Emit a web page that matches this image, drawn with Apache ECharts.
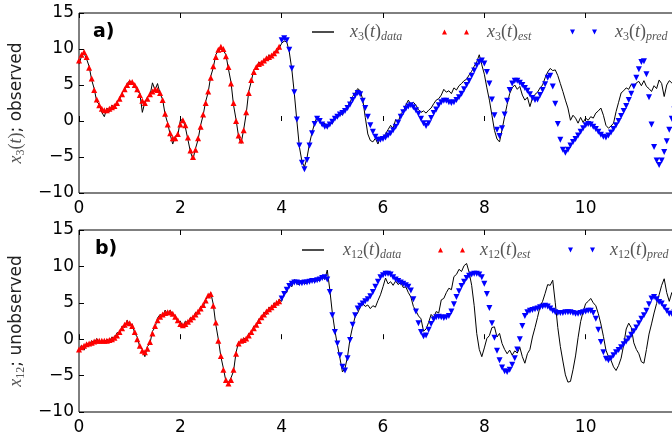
<!DOCTYPE html>
<html>
<head>
<meta charset="utf-8">
<script src="https://cdn.jsdelivr.net/npm/echarts@6/dist/echarts.min.js"></script>
<style>
html, body { margin: 0; padding: 0; background: #fff; }
#chart { width: 672px; height: 446px; }
</style>
</head>
<body>
<div id="chart"></div>
<script>
// sampling step of the time axis
var dt = 0.05;
var xRange = [0, 12];
var yRange = [-10, 15];

// panel a) x3 : observed
var x3Data = [ // t = 0 .. 11.75
  7.9, 9.0, 9.4, 8.6, 7.6, 5.7, 4.5, 2.7, 2.3, 1.2, 0.6, 1.8, 1.3, 2.2, 1.8, 2.7, 3.0, 3.9, 4.3, 5.2,
  5.6, 5.2, 5.0, 4.1, 3.9, 1.2, 2.6, 3.3, 3.5, 5.3, 4.3, 5.2, 3.8, 3.0, 0.9, -0.3, -1.9, -3.2, -2.1, -2.0,
  0.1, 0.2, -0.9, -2.6, -4.3, -5.3, -3.8, -2.6, -0.6, 0.8, 2.7, 4.0, 6.2, 7.4, 9.2, 9.8, 10.0, 9.8, 9.2, 7.2,
  5.4, 2.2, 0.2, -2.2, -3.1, -1.2, 1.0, 4.1, 5.5, 7.1, 7.3, 8.2, 7.8, 8.6, 8.4, 9.2, 8.8, 9.6, 9.5, 10.1,
  10.8, 11.1, 11.0, 9.6, 7.2, 3.8, 0.0, -3.6, -5.6, -6.4, -5.1, -3.1, -1.6, -0.3, 0.6, 0.1, -0.7, -0.3, -1.0, -0.2,
  -0.4, 0.6, 0.4, 1.2, 0.8, 1.7, 2.0, 2.6, 3.4, 3.9, 4.5, 4.2, 3.0, 0.5, -1.8, -2.7, -2.9, -2.4, -3.2, -2.2,
  -2.4, -1.8, -1.2, -0.6, -1.0, 0.2, -0.2, 1.0, 1.3, 2.2, 2.9, 2.3, 2.6, 2.2, 1.6, 1.2, 1.4, 1.1, 1.5, 1.8,
  2.4, 2.9, 3.1, 3.6, 4.4, 4.0, 4.2, 3.8, 4.6, 4.3, 4.9, 5.2, 5.6, 5.8, 6.4, 6.9, 7.6, 8.2, 9.2, 7.8,
  6.5, 4.6, 2.9, 0.8, -1.3, -2.5, -2.9, -1.2, 0.6, 2.3, 3.8, 4.6, 5.0, 4.4, 4.8, 3.6, 2.9, 3.3, 2.0, 3.2,
  3.7, 4.0, 4.6, 5.0, 6.0, 6.8, 7.3, 7.0, 7.1, 6.3, 5.2, 4.1, 2.9, 1.8, 0.1, 0.8, 0.4, -0.3, 0.5, -0.2,
  0.4, 0.1, 0.6, 0.4, 1.1, 1.4, 1.8, 0.8, -0.6, -1.0, -0.7, -0.3, 1.3, 2.6, 3.9, 4.2, 4.6, 4.4, 5.1, 4.7,
  5.3, 5.5, 4.9, 5.6, 4.8, 4.5, 4.1, 4.9, 4.5, 5.7, 5.2, 3.4, 5.0, 5.6, 5.3, 5.6
];
var x3Est = [ // t = 0 .. 3.95
  8.4, 9.2, 9.6, 8.9, 7.4, 5.9, 4.3, 3.0, 2.2, 1.7, 1.5, 1.5, 1.7, 1.9, 2.1, 2.5, 3.1, 3.7, 4.4, 5.0,
  5.4, 5.4, 5.0, 4.4, 3.6, 2.8, 2.5, 3.1, 3.7, 4.1, 4.4, 4.3, 3.9, 2.9, 1.0, -0.5, -1.7, -2.4, -2.4, -1.8,
  -0.5, 0.1, -0.6, -2.3, -4.1, -5.0, -4.0, -2.4, -0.8, 0.9, 2.5, 4.1, 6.0, 7.6, 8.9, 9.9, 10.3, 10.0, 9.0, 7.5,
  5.2, 2.5, 0.0, -2.0, -2.7, -1.3, 1.2, 3.9, 5.7, 6.8, 7.5, 7.9, 8.1, 8.4, 8.7, 8.9, 9.1, 9.4, 9.8, 10.3
];
var x3Pred = [ // t = 4 .. 11.75
  11.2, 11.5, 11.2, 9.9, 7.3, 4.0, 0.2, -3.4, -5.8, -6.7, -5.4, -3.4, -1.7, -0.4, 0.3, 0.0, -0.5, -0.8, -0.8, -0.5,
  -0.1, 0.3, 0.6, 0.9, 1.1, 1.4, 1.8, 2.3, 2.9, 3.5, 3.9, 3.7, 2.8, 1.8, 0.6, -0.6, -1.5, -2.2, -2.6, -2.6,
  -2.5, -2.3, -2.0, -1.7, -1.3, -0.8, -0.2, 0.6, 1.2, 1.7, 2.0, 2.2, 1.9, 1.5, 1.0, 0.3, -0.3, -0.7, -0.3, 0.4,
  1.1, 1.6, 2.2, 2.6, 2.8, 2.8, 2.6, 2.5, 2.6, 2.9, 3.3, 3.8, 4.4, 5.0, 5.6, 6.3, 7.0, 7.7, 8.2, 8.4,
  8.0, 6.8, 5.2, 3.0, 0.8, -1.2, -2.1, -1.0, 0.9, 2.8, 4.3, 5.2, 5.6, 5.6, 5.3, 5.0, 4.6, 4.2, 3.7, 3.2,
  2.9, 3.0, 3.6, 4.3, 5.1, 6.0, 6.3, 4.8, 2.4, -0.4, -2.6, -4.0, -4.4, -4.0, -3.4, -2.9, -2.5, -2.0, -1.5, -1.0,
  -0.6, -0.4, -0.5, -0.8, -1.1, -1.5, -1.9, -2.2, -2.3, -2.0, -1.6, -1.1, -0.6, 0.0, 0.7, 1.4, 2.1, 2.9, 3.8, 4.8,
  6.0, 7.2, 8.2, 8.3, 6.5, 3.3, -0.5, -3.6, -5.5, -6.1, -5.5, -4.3, -2.8, -1.2, 0.3, 1.6
];

// panel b) x12 : unobserved
var x12Data = [ // t = 0 .. 11.75
  -1.6, -0.8, -1.5, -0.5, -0.9, -0.2, -0.6, 0.1, -0.5, -0.1, -0.4, 0.0, -0.3, 0.3, 0.1, 0.9, 0.8, 1.8, 1.6, 2.6,
  1.9, 2.1, 0.8, 0.3, -1.1, -1.4, -2.4, -1.0, -0.6, 1.1, 1.6, 2.9, 3.4, 3.1, 4.0, 3.4, 4.0, 3.3, 3.3, 2.3,
  2.5, 1.6, 2.5, 2.2, 3.0, 2.8, 3.7, 3.4, 4.5, 4.4, 5.5, 5.8, 6.4, 4.8, 2.0, 0.0, -2.4, -4.0, -5.8, -6.0,
  -5.3, -4.4, -1.8, -0.4, -0.5, 0.2, -0.2, 0.8, 0.8, 1.8, 1.8, 2.8, 2.7, 3.7, 3.4, 4.4, 4.0, 5.0, 4.7, 5.5,
  5.2, 6.3, 6.4, 7.6, 7.2, 8.2, 7.6, 7.5, 8.0, 7.6, 7.8, 7.9, 8.3, 7.8, 8.2, 8.0, 8.6, 8.2, 9.5, 6.8,
  3.6, 1.2, -0.8, -2.6, -4.5, -4.0, -2.4, 0.1, 1.7, 3.1, 3.6, 4.4, 4.9, 4.5, 4.7, 4.2, 4.6, 4.4, 5.3, 6.1,
  7.2, 8.4, 7.6, 7.9, 7.4, 8.0, 7.5, 7.8, 7.1, 7.2, 6.4, 5.8, 4.5, 3.9, 3.2, 2.8, 1.1, 1.4, 2.3, 3.4,
  3.0, 3.8, 3.6, 5.4, 5.6, 6.4, 7.0, 6.8, 8.6, 8.9, 9.6, 9.3, 10.1, 10.4, 9.2, 7.4, 4.6, 0.8, -1.4, -2.4,
  -1.2, 0.1, 0.5, 1.6, 1.7, 0.3, 0.8, -0.6, -1.4, -2.0, -1.5, -2.2, -1.6, -1.9, -1.1, -2.4, -3.3, -2.0, -1.4, 0.3,
  1.6, 3.0, 4.5, 5.2, 6.3, 7.5, 7.4, 8.1, 5.0, 1.6, -1.0, -3.0, -4.9, -5.9, -5.8, -4.2, -2.3, 0.2, 2.4, 3.8,
  4.9, 5.2, 5.6, 5.0, 4.6, 3.5, 2.1, 0.4, -1.5, -2.4, -2.9, -3.8, -4.3, -3.6, -2.6, -0.8, 1.4, 2.2, 1.6, -0.5,
  -1.4, -2.0, -3.1, -3.3, -1.4, 0.7, 2.1, 3.6, 4.9, 6.1, 7.4, 8.3, 6.4, 5.2, 6.4, 5.6
];
var x12Est = [ // t = 0 .. 3.95
  -1.4, -1.1, -0.9, -0.7, -0.6, -0.5, -0.3, -0.2, -0.2, -0.2, -0.2, -0.2, -0.1, 0.0, 0.2, 0.5, 1.0, 1.5, 2.0, 2.3,
  2.2, 1.8, 1.0, 0.0, -0.9, -1.6, -1.8, -1.3, -0.4, 0.8, 1.8, 2.6, 3.1, 3.4, 3.6, 3.7, 3.7, 3.5, 3.1, 2.6,
  2.1, 1.9, 2.1, 2.4, 2.7, 3.0, 3.4, 3.8, 4.2, 4.7, 5.3, 6.0, 6.2, 4.6, 2.3, -0.2, -2.3, -4.2, -5.6, -6.1,
  -5.6, -4.2, -2.0, -0.6, -0.2, -0.1, 0.1, 0.5, 1.0, 1.5, 2.0, 2.5, 3.0, 3.4, 3.8, 4.1, 4.4, 4.7, 5.0, 5.2
];
var x12Pred = [ // t = 4 .. 11.75
  5.6, 6.2, 6.8, 7.3, 7.6, 7.8, 7.8, 7.7, 7.7, 7.8, 7.8, 7.9, 8.0, 8.0, 8.1, 8.2, 8.4, 8.5, 8.2, 6.5,
  3.3, 1.0, -0.6, -2.2, -3.8, -4.3, -2.6, -0.1, 2.0, 3.3, 4.2, 4.6, 4.9, 5.2, 5.5, 5.9, 6.5, 7.2, 7.9, 8.5,
  8.8, 9.0, 9.0, 8.9, 8.5, 8.2, 8.0, 7.8, 7.6, 7.4, 7.2, 6.7, 5.5, 3.8, 2.2, 1.0, 0.4, 0.5, 1.3, 2.1,
  2.7, 3.0, 3.1, 3.0, 2.9, 3.0, 3.2, 3.8, 4.8, 5.8, 6.6, 7.3, 7.9, 8.4, 8.7, 8.9, 9.0, 9.0, 8.9, 8.5,
  7.6, 6.2, 4.3, 2.2, 0.2, -1.6, -2.9, -3.9, -4.4, -4.5, -4.2, -3.5, -2.6, -1.4, 0.0, 1.8, 3.2, 3.7, 3.9, 4.0,
  4.1, 4.2, 4.4, 4.5, 4.6, 4.5, 4.2, 3.9, 3.7, 3.6, 3.6, 3.6, 3.7, 3.7, 3.7, 3.6, 3.5, 3.5, 3.6, 3.7,
  3.8, 3.9, 3.9, 3.6, 2.8, 1.3, -0.4, -1.8, -2.7, -2.9, -2.6, -2.2, -1.8, -1.5, -1.1, -0.7, -0.3, 0.1, 0.6, 1.1,
  1.6, 2.2, 2.8, 3.3, 3.9, 4.8, 5.6, 5.8, 5.5, 5.1, 4.9, 4.4, 3.9, 3.5, 3.5, 3.7
];

function pts(vals, t0) {
  return vals.map(function (v, i) {
    return [Math.round((t0 + i * dt) * 100) / 100, v];
  });
}

var mathColor = '#555';
var rich = {
  i: { fontFamily: 'Liberation Serif', fontStyle: 'italic', fontSize: 18, color: mathColor },
  u: { fontFamily: 'Liberation Serif', fontSize: 18, color: mathColor },
  s: { fontFamily: 'Liberation Serif', fontSize: 12, color: mathColor, padding: [9, 0, 0, 0] },
  si: { fontFamily: 'Liberation Serif', fontStyle: 'italic', fontSize: 12, color: mathColor, padding: [9, 0, 0, 0] },
  r: { fontFamily: 'DejaVu Sans', fontSize: 17, color: '#222' }
};

var lineIcon = 'path://M0,0 L22,0 L22,1.4 L0,1.4 Z';
var upIcon = 'path://M0,5 L2.5,0 L5,5 Z M22,5 L24.5,0 L27,5 Z';
var downIcon = 'path://M0,0 L5,0 L2.5,5 Z M22,0 L27,0 L24.5,5 Z';
var downMarker = 'path://M0,0 L10,0 L5,10 Z';

var names = {
  a_data: '{i|x}{s|3}{u|(}{i|t}{u|)}{si|data}',
  a_est: '{i|x}{s|3}{u|(}{i|t}{u|)}{si|est}',
  a_pred: '{i|x}{s|3}{u|(}{i|t}{u|)}{si|pred}',
  b_data: '{i|x}{s|12}{u|(}{i|t}{u|)}{si|data}',
  b_est: '{i|x}{s|12}{u|(}{i|t}{u|)}{si|est}',
  b_pred: '{i|x}{s|12}{u|(}{i|t}{u|)}{si|pred}'
};

function legendItem(name, icon, w, h, left, top, gap) {
  return {
    data: [{ name: name, icon: icon }],
    left: left, top: top, padding: 0,
    itemWidth: w, itemHeight: h,
    selectedMode: false,
    formatter: function (n) { return names[n]; },
    textStyle: { rich: rich, padding: [0, 0, 0, gap] }
  };
}

var tickFont = { fontFamily: 'DejaVu Sans', fontSize: 17, color: '#000' };
function minus(v) { return v < 0 ? '\u2212' + (-v) : String(v); }

function xAxisFor(g, pos) {
  return {
    type: 'value', gridIndex: g, position: pos,
    min: xRange[0], max: xRange[1], interval: 2,
    axisLine: { show: false },
    axisTick: { show: true, inside: true, length: 5, lineStyle: { color: '#000' } },
    axisLabel: pos === 'bottom'
      ? Object.assign({ show: true, margin: 7, formatter: minus }, tickFont)
      : { show: false },
    splitLine: { show: false }
  };
}
function yAxisFor(g, name) {
  return {
    type: 'value', gridIndex: g,
    min: yRange[0], max: yRange[1], interval: 5,
    name: name, nameLocation: 'middle', nameGap: 50, nameRotate: 90,
    nameTextStyle: { rich: rich },
    axisLine: { show: false },
    axisTick: { show: true, inside: true, length: 5, lineStyle: { color: '#000' } },
    axisLabel: Object.assign({ margin: 5, formatter: minus }, tickFont),
    splitLine: { show: false }
  };
}

function dataLine(name, xi, yi, vals) {
  return { name: name, type: 'line', xAxisIndex: xi, yAxisIndex: yi, data: pts(vals, 0),
    z: 2, showSymbol: false, color: '#000', lineStyle: { color: '#000', width: 1 } };
}
function markers(name, xi, yi, vals, t0, symbol, color) {
  return { name: name, type: 'scatter', xAxisIndex: xi, yAxisIndex: yi, data: pts(vals, t0),
    z: 3, symbol: symbol, symbolSize: 6, color: color, itemStyle: { color: color, opacity: 1 } };
}

var myChart = echarts.init(document.getElementById('chart'), null, { renderer: 'canvas' });

var option = {
  animation: false,
  backgroundColor: '#fff',
  title: [
    { text: 'a)', left: 93, top: 23, padding: 0,
      textStyle: { fontFamily: 'DejaVu Sans', fontWeight: 'bold', fontSize: 19, color: '#000' } },
    { text: 'b)', left: 95, top: 240, padding: 0,
      textStyle: { fontFamily: 'DejaVu Sans', fontWeight: 'bold', fontSize: 19, color: '#000' } }
  ],
  legend: [
    legendItem('a_data', lineIcon, 22, 2, 312, 23, 11),
    legendItem('a_est', upIcon, 27, 5, 442, 23, 13),
    legendItem('a_pred', downIcon, 27, 5, 570, 23, 13),
    legendItem('b_data', lineIcon, 22, 2, 302, 241, 14),
    legendItem('b_est', upIcon, 27, 5, 438, 241, 10),
    legendItem('b_pred', downIcon, 27, 5, 568, 241, 10)
  ],
  grid: [
    { left: 79, top: 13, width: 608, height: 180, outerBoundsMode: 'none',
      show: true, borderColor: '#000', borderWidth: 1 },
    { left: 79, top: 230, width: 608, height: 182, outerBoundsMode: 'none',
      show: true, borderColor: '#000', borderWidth: 1 }
  ],
  xAxis: [xAxisFor(0, 'bottom'), xAxisFor(0, 'top'), xAxisFor(1, 'bottom'), xAxisFor(1, 'top')],
  yAxis: [
    yAxisFor(0, '{i|x}{s|3}{u|(}{i|t}{u|)}{r|; observed}'),
    yAxisFor(1, '{i|x}{s|12}{r|; unobserved}')
  ],
  series: [
    dataLine('a_data', 0, 0, x3Data),
    markers('a_est', 0, 0, x3Est, 0, 'triangle', '#ff0000'),
    markers('a_pred', 0, 0, x3Pred, 4, downMarker, '#0000ff'),
    dataLine('b_data', 2, 1, x12Data),
    markers('b_est', 2, 1, x12Est, 0, 'triangle', '#ff0000'),
    markers('b_pred', 2, 1, x12Pred, 4, downMarker, '#0000ff')
  ]
};

if (option && typeof option === 'object') {
  myChart.setOption(option);
}

window.addEventListener('resize', myChart.resize);
</script>
</body>
</html>
